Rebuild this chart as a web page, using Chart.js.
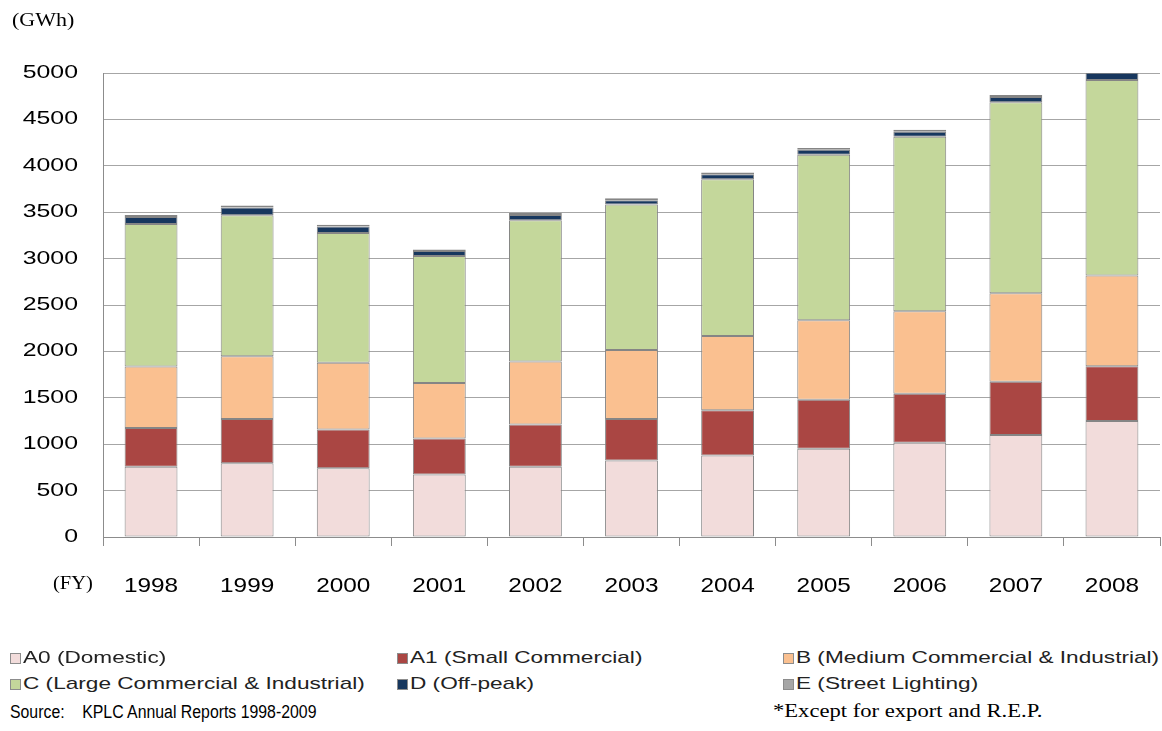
<!DOCTYPE html>
<html>
<head>
<meta charset="utf-8">
<script src="https://cdn.jsdelivr.net/npm/chart.js@4.4.1/dist/chart.umd.min.js"></script>
<style>
  html, body { margin: 0; padding: 0; background: #fff; }
  #wrap { position: relative; width: 1162px; height: 731px; overflow: hidden; }
  #chart { position: absolute; left: 0; top: 0; }
  .txt { position: absolute; white-space: nowrap; color: #000; transform-origin: 0 50%; line-height: 1; }
  .serif { font-family: "Liberation Serif", "Times New Roman", serif; }
  .sans { font-family: "Liberation Sans", Arial, sans-serif; }
  .legend-item { position: absolute; height: 20px; display: flex; align-items: center; }
  .legend-item .box { width: 9px; height: 9px; border: 1px solid #8c8c8c; margin-right: 2px; flex: none; }
  .legend-item .label { font: 17px "Liberation Sans", Arial, sans-serif; color: #222; white-space: nowrap;
                        display: inline-block; transform: scaleX(1.33); transform-origin: 0 50%; }
</style>
</head>
<body>
<div id="wrap">
  <canvas id="chart" width="1162" height="600"></canvas>
  <div class="txt serif" style="left:12px; top:11px; font-size:18px; transform:scaleX(1.22);">(GWh)</div>
  <div class="txt serif" style="left:53px; top:574px; font-size:18px; transform:scaleX(1.14);">(FY)</div>
  <div id="legend"></div>
  <div class="txt sans" style="left:10px; top:703px; font-size:18px; transform:scaleX(0.88);">Source:&nbsp;&nbsp;&nbsp;&nbsp;KPLC Annual Reports 1998-2009</div>
  <div class="txt serif" style="left:773px; top:701px; font-size:19px; transform:scaleX(1.19);">*Except for export and R.E.P.</div>
</div>
<script>
  // Electricity sales by tariff class, GWh per fiscal year
  const years = ["1998", "1999", "2000", "2001", "2002", "2003", "2004", "2005", "2006", "2007", "2008"];
  const domestic = [756, 796, 742, 673, 756, 824, 878, 950, 1015, 1099, 1250];
  const smallCommercial = [418, 475, 417, 389, 457, 447, 487, 529, 529, 575, 589];
  const mediumCommercial = [662, 676, 720, 598, 677, 745, 802, 857, 889, 953, 980];
  const largeCommercial = [1537, 1520, 1396, 1367, 1523, 1566, 1688, 1782, 1879, 2057, 2105];
  const offPeak = [75, 83, 70, 54, 57, 46, 54, 54, 54, 57, 80];
  const streetLighting = [22, 21, 21, 18, 21, 22, 19, 21, 22, 21, 20];
  const yTickValues = [0, 500, 1000, 1500, 2000, 2500, 3000, 3500, 4000, 4500, 5000];

  const series = [
    { label: "A0 (Domestic)", data: domestic, color: "#f2dcdb" },
    { label: "A1 (Small Commercial)", data: smallCommercial, color: "#aa4643" },
    { label: "B (Medium Commercial & Industrial)", data: mediumCommercial, color: "#fac090" },
    { label: "C (Large Commercial & Industrial)", data: largeCommercial, color: "#c4d79b" },
    { label: "D (Off-peak)", data: offPeak, color: "#17375e" },
    { label: "E (Street Lighting)", data: streetLighting, color: "#a6a6a6" }
  ];

  const gridGray = "#a6a6a6";
  const axisGray = "#8c8c8c";

  // tick labels are drawn by hand so they can be widened a little
  const wideTicks = {
    id: "wideTicks",
    afterDraw(chart) {
      const ctx = chart.ctx;
      const { x, y } = chart.scales;
      ctx.save();
      ctx.fillStyle = "#000";
      ctx.textBaseline = "middle";

      ctx.font = '18px "Liberation Sans", Arial, sans-serif';
      ctx.textAlign = "right";
      y.ticks.forEach((t, i) => {
        ctx.save();
        ctx.translate(78, y.getPixelForTick(i));
        ctx.scale(1.38, 1);
        ctx.fillText(String(t.value), 0, 0);
        ctx.restore();
      });

      ctx.font = '21px "Liberation Sans", Arial, sans-serif';
      ctx.textAlign = "center";
      years.forEach((yr, i) => {
        ctx.save();
        ctx.translate(x.getPixelForValue(i), 586);
        ctx.scale(1.16, 1);
        ctx.fillText(yr, 0, 0);
        ctx.restore();
      });
      ctx.restore();
    }
  };

  new Chart(document.getElementById("chart"), {
    type: "bar",
    data: {
      labels: years,
      datasets: series.map(s => ({
        label: s.label,
        data: s.data,
        backgroundColor: s.color,
        borderColor: "#858585",
        borderWidth: 1,
        borderSkipped: false,
        barPercentage: 0.55,
        categoryPercentage: 1
      }))
    },
    options: {
      responsive: false,
      animation: false,
      devicePixelRatio: 1,
      layout: { padding: { top: 73, right: 2, left: 0, bottom: 0 } },
      plugins: { legend: { display: false }, tooltip: { enabled: false } },
      scales: {
        x: {
          stacked: true,
          grid: { drawOnChartArea: false, drawTicks: true, tickLength: 9, color: axisGray, offset: true },
          border: { display: true, color: axisGray },
          ticks: { display: false },
          afterFit: s => { s.height = 63; }
        },
        y: {
          stacked: true,
          min: yTickValues[0],
          max: yTickValues[yTickValues.length - 1],
          afterBuildTicks: s => { s.ticks = yTickValues.map(v => ({ value: v })); },
          grid: { color: gridGray, drawTicks: false },
          border: { display: true, color: axisGray },
          ticks: { display: false },
          afterFit: s => { s.width = 103; }
        }
      }
    },
    plugins: [wideTicks]
  });

  // legend laid out in three columns, two rows
  const legendCols = [10, 397, 783];
  const legendRows = [648, 674];
  const legend = document.getElementById("legend");
  series.forEach((s, i) => {
    const item = document.createElement("div");
    item.className = "legend-item";
    item.style.left = legendCols[i % 3] + "px";
    item.style.top = legendRows[Math.floor(i / 3)] + "px";
    item.innerHTML = '<span class="box" style="background:' + s.color + '"></span><span class="label"></span>';
    item.querySelector(".label").textContent = s.label;
    legend.appendChild(item);
  });
</script>
</body>
</html>
